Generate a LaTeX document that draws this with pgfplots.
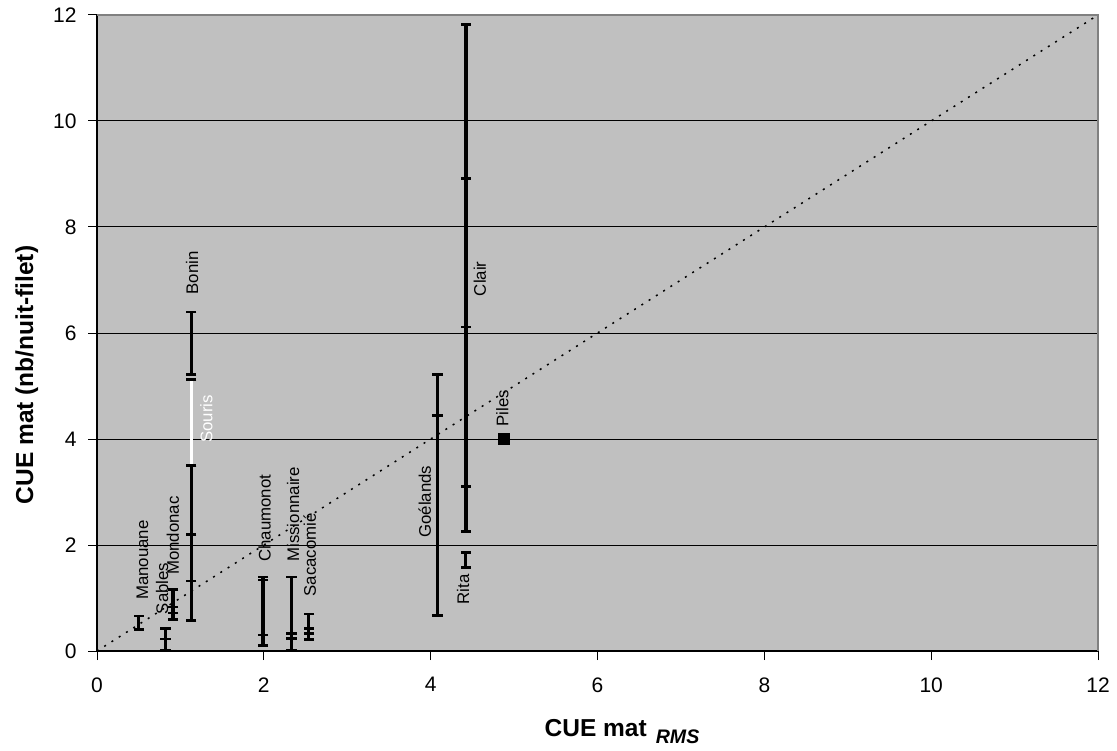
\documentclass[border=0pt]{standalone}
\usepackage{fontspec}
\setmainfont{Liberation Sans}
\usepackage{pgfplots}
\pgfplotsset{compat=1.18}
\definecolor{plotgray}{HTML}{C0C0C0}
\definecolor{bordergray}{HTML}{808080}
\pgfplotsset{
  seg/.style={black, line width=1.6pt, mark=-, mark size=2.6pt,
    mark options={black, line width=1.3pt}},
}
\tikzset{
  lbl/.style={rotate=90, anchor=west, inner sep=0pt,
    font=\fontsize{8.4}{10}\selectfont},
}
\begin{document}
\begin{tikzpicture}
\useasboundingbox (0,0) rectangle (558.5pt,375pt);
\begin{axis}[
  at={(48.5pt,49.5pt)}, anchor=south west,
  scale only axis, width=500.5pt, height=318pt,
  xmin=0, xmax=12, ymin=0, ymax=12,
  xtick={0,2,...,12}, ytick={0,2,...,12},
  axis lines*=left,
  axis line style={black, line width=0.6pt},
  tick align=outside, major tick length=4.5pt,
  tick style={black, line width=0.5pt},
  ymajorgrids, grid style={black, line width=0.5pt},
  axis background/.style={fill=plotgray},
  tick label style={font=\fontsize{10.5}{12}\selectfont},
  /pgf/number format/assume math mode=true,
  xticklabel style={inner sep=0pt, anchor=north, yshift=-8.5pt},
  yticklabel style={inner sep=0pt, anchor=east, xshift=-5.5pt},
  xlabel={\textbf{CUE mat}\hspace{4.5pt}\raisebox{-3.65pt}{\fontsize{9.8}{11}\selectfont\bfseries\itshape RMS}},
  xlabel style={at={(axis description cs:0.5245,0)}, anchor=base, yshift=-42.5pt,
    font=\fontsize{12.25}{14}\selectfont},
  ylabel={CUE mat (nb/nuit-filet)},
  ylabel style={at={(axis description cs:-0.0639,0.434)}, anchor=base,
    font=\fontsize{12.25}{14}\selectfont\bfseries},
  clip=false,
]
% diagonal 1:1
\addplot[black, line width=0.75pt, dash pattern=on 1pt off 3.3pt] coordinates {(0,0) (12,12)};

% Manouane
\addplot[seg] coordinates {(0.50,0.41) (0.50,0.66)};
% Sables
\addplot[seg] coordinates {(0.82,0.02) (0.82,0.23) (0.82,0.42)};
% Mondonac
\addplot[seg] coordinates {(0.91,0.60) (0.91,0.72) (0.91,0.83) (0.91,1.16)};
% lower part, Souris (white), Bonin
\addplot[seg] coordinates {(1.13,0.58) (1.13,1.32) (1.13,2.20) (1.13,3.50)};
\addplot[seg, white, mark options={black, line width=1.3pt}] coordinates {(1.13,3.50) (1.13,5.12)};
\addplot[seg] coordinates {(1.13,5.22) (1.13,6.40)};
% Chaumonot
\addplot[seg] coordinates {(1.99,0.10) (1.99,0.30) (1.99,1.34) (1.99,1.40)};
% Missionnaire
\addplot[seg] coordinates {(2.33,0.02) (2.33,0.24) (2.33,0.33) (2.33,1.40)};
% Sacacomie
\addplot[seg] coordinates {(2.54,0.22) (2.54,0.33) (2.54,0.43) (2.54,0.70)};
% Goelands
\addplot[seg, line width=1.3pt] coordinates {(4.08,0.67) (4.08,4.44) (4.08,5.22)};
% Clair
\addplot[seg, line width=1.8pt] coordinates {(4.42,2.25) (4.42,3.10) (4.42,6.11) (4.42,8.92) (4.42,11.82)};
% Rita
\addplot[seg] coordinates {(4.42,1.58) (4.42,1.86)};
% Piles
\addplot[only marks, mark=square*, mark size=2.6pt, black] coordinates {(4.88,4.0)};

\node[lbl] at (axis cs:0.545,0.96) {Manouane};
\node[lbl] at (axis cs:0.78,0.69) {Sables};
\node[lbl] at (axis cs:0.91,1.43) {Mondonac};
\node[lbl] at (axis cs:1.14,6.72) {Bonin};
\node[lbl, text=white] at (axis cs:1.31,3.92) {Souris};
\node[lbl] at (axis cs:2.01,1.68) {Chaumonot};
\node[lbl] at (axis cs:2.35,1.68) {Missionnaire};
\node[lbl] at (axis cs:2.55,1.02) {Sacacomié};
\node[lbl] at (axis cs:3.93,2.13) {Goélands};
\node[lbl] at (axis cs:4.59,6.69) {Clair};
\node[lbl] at (axis cs:4.39,0.87) {Rita};
\node[lbl] at (axis cs:4.86,4.23) {Piles};

\draw[bordergray, line width=0.6pt] (rel axis cs:0,1) -- (rel axis cs:1,1) -- (rel axis cs:1,0);
\end{axis}
\end{tikzpicture}
\end{document}
